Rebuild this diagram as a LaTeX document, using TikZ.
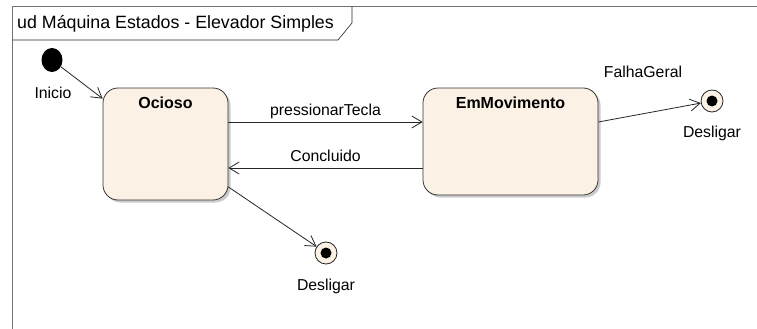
\documentclass[tikz,border=0pt]{standalone}
\usepackage{fontspec}
\setmainfont{Liberation Sans}
\usetikzlibrary{arrows.meta,shadows,shapes.geometric}
\definecolor{statefill}{RGB}{251,241,228}
\begin{document}
\begin{tikzpicture}[x=1pt,y=-1pt,
  lbl/.style={font=\fontsize{15.8}{18}\selectfont, inner sep=0pt},
  statebox/.style={draw=black!80, fill=statefill, rounded corners=15pt,
    line width=0.8pt, inner sep=0pt,
    drop shadow={shadow xshift=2.5pt, shadow yshift=-2.5pt, fill=black!40, opacity=0.5}},
  statename/.style={font=\bfseries\fontsize{16}{19}\selectfont, inner sep=0pt, anchor=north},
  finalstate/.style={circle, draw=black!85, fill=statefill, line width=0.8pt,
    minimum size=22pt, inner sep=0pt,
    path picture={\fill[black] (path picture bounding box.center) circle (5.5pt);}},
  arr/.style={draw=black!85, line width=0.8pt, -{Straight Barb[length=10pt,width=12pt]}}
]
\useasboundingbox (0,0) rectangle (757,329);
\fill[white] (0,0) rectangle (757,329);

% diagram frame and its title tab
\draw[black!55, line width=1.6pt] (12.5,329) -- (12.5,6.5) -- (757,6.5);
\draw[black!85, line width=0.6pt] (12.5,40) -- (338,40) -- (352,23) -- (352,6.5);
\node[anchor=west, inner sep=0pt, font=\fontsize{17.8}{20}\selectfont] (title) at (17,24)
  {ud Máquina Estados - Elevador Simples};

% initial pseudo-state
\node[ellipse, fill=black, minimum width=21pt, minimum height=24pt, inner sep=0pt] (init) at (52,60) {};
\node[lbl] (inicio) at (53,93) {Inicio};

% states
\node[statebox, minimum width=125pt, minimum height=112pt] (ocioso) at (165.5,144) {};
\node[statename] (ociosoT) at ([yshift=-9pt]ocioso.north) {Ocioso};
\node[statebox, minimum width=175pt, minimum height=107pt] (mov) at (510.5,141.5) {};
\node[statename] (movT) at ([yshift=-9pt]mov.north) {EmMovimento};

% final states
\node[finalstate] (fimA) at (712,101) {};
\node[lbl] (desA) at (712,133.5) {Desligar};
\node[finalstate] (fimB) at (326,253) {};
\node[lbl] (desB) at (326,286) {Desligar};

% transitions
\draw[arr] (init) -- ([yshift=-11pt]ocioso.north west);
\draw[arr] ([yshift=22pt]ocioso.east) -- ([yshift=22pt]ocioso.east -| mov.west)
  node[lbl, midway, above=3pt] (lp) {pressionarTecla};
\draw[arr] ([yshift=-24pt]ocioso.east -| mov.west) -- ([yshift=-24pt]ocioso.east)
  node[lbl, midway, above=6pt] (lc) {Concluido};
\draw[arr] ([yshift=19.5pt]mov.east) -- (fimA);
\node[lbl] (lf) at (643,72) {FalhaGeral};
\draw[arr] ([yshift=-43pt]ocioso.east) -- (fimB);
\end{tikzpicture}
\end{document}
